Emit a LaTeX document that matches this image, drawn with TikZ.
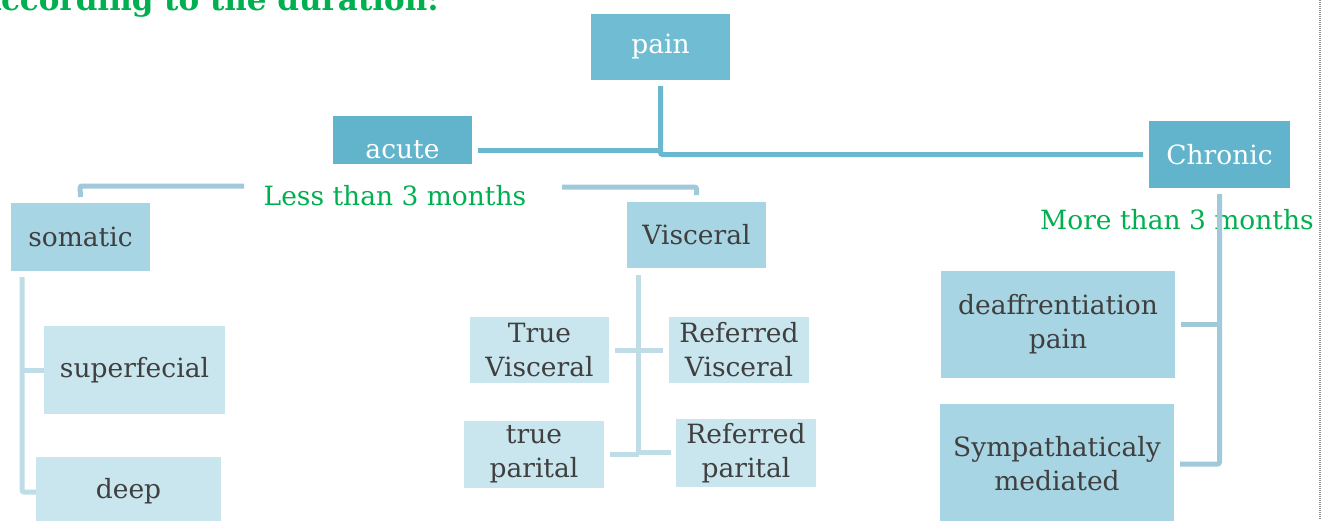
\documentclass[tikz,border=0pt]{standalone}
\usepackage{fontspec}
\setmainfont{DejaVu Serif}
\usetikzlibrary{calc}
\definecolor{cDark}{HTML}{61B4CB}
\definecolor{cPain}{HTML}{70BDD3}
\definecolor{cMid}{HTML}{A7D5E3}
\definecolor{cLight}{HTML}{C9E5EE}
\definecolor{lnDark}{HTML}{6AB8CE}
\definecolor{lnMid}{HTML}{A0CADA}
\definecolor{lnLight}{HTML}{BEDDE6}
\definecolor{gTxt}{HTML}{00B050}
\definecolor{tTxt}{HTML}{3F3F3F}
\tikzset{
  boxbase/.style={inner sep=0pt, outer sep=0pt, align=center, font=\fontsize{26.5}{34}\selectfont},
  darkbox/.style={boxbase, fill=cDark, text=white},
  painbox/.style={boxbase, fill=cPain, text=white},
  midbox/.style={boxbase, fill=cMid, text=tTxt},
  lightbox/.style={boxbase, fill=cLight, text=tTxt},
  greenlbl/.style={inner sep=0pt, text=gTxt, font=\fontsize{26.5}{30}\selectfont},
  lnA/.style={draw=lnDark, line width=5pt, rounded corners=2pt},
  lnB/.style={draw=lnMid, line width=5pt, rounded corners=2pt},
  lnC/.style={draw=lnLight, line width=5pt, rounded corners=2pt},
}
\begin{document}
\begin{tikzpicture}[x=1pt,y=-1pt]
\useasboundingbox (0,0) rectangle (1333,520);
\clip (0,0) rectangle (1333,520);

% title (clipped at top and left, as in the reference)
\node[anchor=base east, inner sep=0pt, text=gTxt, font=\fontsize{31}{36}\selectfont\bfseries] (title) at (439,10.5) {According to the duration:};

% boxes
\node[painbox, minimum width=139, minimum height=66] (pain) at (660.5,47) {pain};
\node[darkbox, minimum width=139, minimum height=48] (acute) at (402.5,140) {};
\node[inner sep=0pt, text=white, font=\fontsize{26.5}{30}\selectfont] (acuteT) at (402.5,150) {acute};
\node[darkbox, minimum width=141, minimum height=67] (chronic) at (1219.5,154.5) {Chronic};

\node[midbox, minimum width=139, minimum height=68] (somatic) at (80.5,237) {somatic};
\node[lightbox, minimum width=181, minimum height=88] (superf) at (134.5,370) {superfecial};
\node[lightbox, minimum width=185, minimum height=68] (deep) at (128.5,491) {deep};

\node[midbox, minimum width=139, minimum height=66] (visceral) at (696.5,235) {Visceral};
\node[lightbox, minimum width=139, minimum height=66] (trueV) at (539.5,350) {True\\Visceral};
\node[lightbox, minimum width=140, minimum height=66] (refV) at (739,350) {Referred\\Visceral};
\node[lightbox, minimum width=140, minimum height=67] (trueP) at (534,454.5) {true\\parital};
\node[lightbox, minimum width=140, minimum height=68] (refP) at (746,453) {Referred\\parital};

\node[midbox, minimum width=234, minimum height=107] (deaff) at (1058,324.5) {deaffrentiation\\pain};
\node[midbox, minimum width=234, minimum height=120] (symp) at (1057,464) {Sympathaticaly\\mediated};

% green labels
\node[greenlbl] (less) at (395,196) {Less than 3 months};
\node[greenlbl] (more) at (1177,220) {More than 3 months};

% level 1 connectors
\coordinate (pj) at ($(pain.south)+(0,6)$);
\draw[lnA] (pj) -- (pj |- chronic.west) -- ($(chronic.west)+(-6,0)$);
\draw[lnA] ($(acute.east)+(6,10)$) -- ($(pj |- acute.east)+(0,10)$);

% level 2 connectors (acute)
\coordinate (sj) at ($(somatic.north)+(0,-6)$);
\draw[lnB] (sj) -- (80,186) -- (244,186);
\coordinate (vj) at ($(visceral.north)+(0,-7)$);
\draw[lnB] (562,187) -- (vj |- 0,187) -- (vj);

% chronic
\coordinate (cj) at ($(chronic.south)+(0,6)$);
\draw[lnB] (cj) -- (cj |- symp.east) -- ($(symp.east)+(6,0)$);
\draw[lnB] ($(deaff.east)+(6,0)$) -- (cj |- deaff.east);

% somatic children
\draw[lnC] (22,277) -- (22,492) -- ($(deep.west |- 0,492)+(0,0)$);
\draw[lnC] (22,370) -- (superf.west);

% visceral children
\coordinate (vv) at ($(visceral.south)+(-58,7)$);
\draw[lnC] (vv) -- (vv |- 0,453);
\draw[lnC] ($(trueV.east)+(6,0)$) -- ($(refV.west)+(-6,0)$);
\draw[lnC] ($(trueP.east |- 0,454)+(6,0)$) -- (vv |- 0,454);
\draw[lnC] (vv |- 0,452) -- ($(refP.west |- 0,452)+(-5,0)$);

% dotted frame line
\draw[gray!85, line width=1.3pt, dash pattern=on 1pt off 1pt] (1320,0) -- (1320,520);
\end{tikzpicture}
\end{document}
